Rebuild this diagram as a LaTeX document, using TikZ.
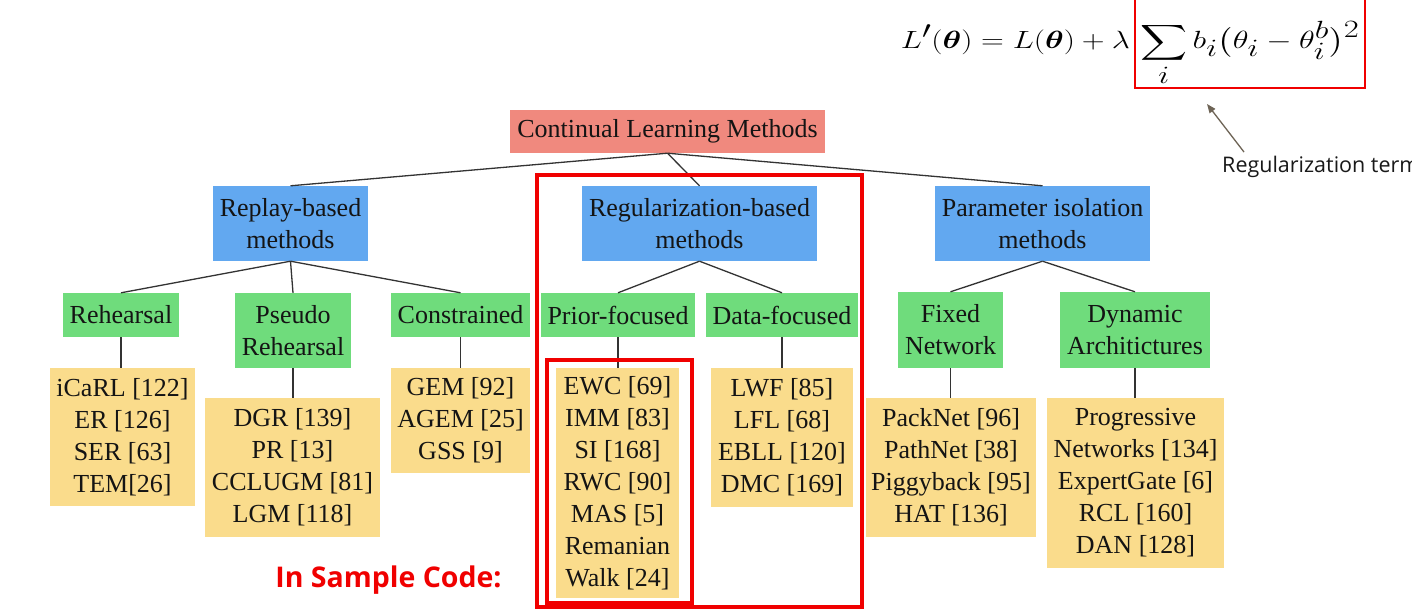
\documentclass[tikz,border=0pt]{standalone}
\usepackage{amsmath}
\usepackage{bm}
\usepackage{graphicx}
\usepackage{fontspec}
\setmainfont{Liberation Serif}
\newfontfamily\osans{Open Sans}
\usetikzlibrary{arrows.meta}
\definecolor{salmonbox}{HTML}{F0897E}
\definecolor{bluebox}{HTML}{62A8F0}
\definecolor{greenbox}{HTML}{6FDC7C}
\definecolor{yellowbox}{HTML}{FADC8C}
\definecolor{linegray}{HTML}{333333}
\definecolor{arrowbrown}{HTML}{6E6456}
\definecolor{markred}{HTML}{F00000}
\begin{document}
\begin{tikzpicture}[x=1pt,y=-1pt,
  box/.style={inner sep=0pt, align=center, font=\fontsize{26}{32}\selectfont, text=black!92},
  rootbox/.style={box, fill=salmonbox},
  catbox/.style={box, fill=bluebox},
  subbox/.style={box, fill=greenbox},
  leafbox/.style={box, fill=yellowbox},
  conn/.style={draw=linegray, line width=1.3pt},
  redframe/.style={draw=markred, inner sep=0pt},
  mathpart/.style={inner sep=0pt, font=\fontsize{34}{40}\selectfont}
]
\useasboundingbox (0,0) rectangle (1412,612);
\clip (0,0) rectangle (1412,612);
\fill[white] (0,0) rectangle (1412,612);

% level 0
\node[rootbox, minimum width=315pt, minimum height=43pt] (root) at (667.5,131.5) {Continual Learning Methods};

% level 1
\node[catbox, minimum width=155pt, minimum height=75pt] (replay) at (290.5,223.5) {Replay-based\\methods};
\node[catbox, minimum width=235pt, minimum height=75pt] (reg) at (699.5,223.5) {Regularization-based\\methods};
\node[catbox, minimum width=215pt, minimum height=75pt] (param) at (1042.5,223.5) {Parameter isolation\\methods};

% level 2
\node[subbox, minimum width=116pt, minimum height=44pt] (rehearsal) at (121,315) {Rehearsal};
\node[subbox, minimum width=116pt, minimum height=75pt] (pseudo) at (293,330.5) {Pseudo\\Rehearsal};
\node[subbox, minimum width=139pt, minimum height=44pt] (constr) at (460.5,315) {Constrained};
\node[subbox, minimum width=154pt, minimum height=44pt] (prior) at (618,315) {Prior-focused};
\node[subbox, minimum width=152pt, minimum height=44pt] (data) at (782,315) {Data-focused};
\node[subbox, minimum width=105pt, minimum height=76pt] (fixed) at (950.5,330) {Fixed\\Network};
\node[subbox, minimum width=150pt, minimum height=76pt] (dyn) at (1135,330) {Dynamic\\Architictures};

% level 3
\node[leafbox, minimum width=145pt, minimum height=138pt] (lrehearsal) at (122.5,437) {iCaRL [122]\\ER [126]\\SER [63]\\TEM[26]};
\node[leafbox, minimum width=175pt, minimum height=139pt] (lpseudo) at (292.5,467.5) {DGR [139]\\PR [13]\\CCLUGM [81]\\LGM [118]};
\node[leafbox, minimum width=139pt, minimum height=105pt] (lconstr) at (460.5,420.5) {GEM [92]\\AGEM [25]\\GSS [9]};
\node[leafbox, minimum width=123pt, minimum height=230pt] (lprior) at (617.5,483) {EWC [69]\\IMM [83]\\SI [168]\\RWC [90]\\MAS [5]\\Remanian\\Walk [24]};
\node[leafbox, minimum width=142pt, minimum height=139pt] (ldata) at (782,437.5) {LWF [85]\\LFL [68]\\EBLL [120]\\DMC [169]};
\node[leafbox, minimum width=170pt, minimum height=139pt] (lfixed) at (951,467.5) {PackNet [96]\\PathNet [38]\\Piggyback [95]\\HAT [136]};
\node[leafbox, minimum width=177pt, minimum height=170pt] (ldyn) at (1135.5,483) {Progressive\\Networks [134]\\ExpertGate [6]\\RCL [160]\\DAN [128]};

% connectors
\draw[conn] (root.south) -- (replay.north);
\draw[conn] (root.south) -- (reg.north);
\draw[conn] (root.south) -- (param.north);
\draw[conn] (replay.south) -- (rehearsal.north);
\draw[conn] (replay.south) -- (pseudo.north);
\draw[conn] (replay.south) -- (constr.north);
\draw[conn] (reg.south) -- (prior.north);
\draw[conn] (reg.south) -- (data.north);
\draw[conn] (param.south) -- (fixed.north);
\draw[conn] (param.south) -- (dyn.north);
\draw[conn] (rehearsal.south) -- (rehearsal.south |- lrehearsal.north);
\draw[conn] (pseudo.south) -- (pseudo.south |- lpseudo.north);
\draw[conn] (constr.south) -- (constr.south |- lconstr.north);
\draw[conn] (prior.south) -- (prior.south |- lprior.north);
\draw[conn] (data.south) -- (data.south |- ldata.north);
\draw[conn] (fixed.south) -- (fixed.south |- lfixed.north);
\draw[conn] (dyn.south) -- (dyn.south |- ldyn.north);

% red highlight frames
\node[redframe, line width=3.5pt, minimum width=325pt, minimum height=432pt] (regframe) at (699.5,391) {};
\node[redframe, line width=4pt, minimum width=145pt, minimum height=243pt] (priorframe) at (619.5,481.5) {};

% label
\node[font=\osans\bfseries\fontsize{28.5}{34}\selectfont, text=markred, inner sep=0pt] (sample) at (388.5,580) {In Sample Code:};

% formula
\node[mathpart, anchor=base east] (eqleft) at (1130,49)
  {\scalebox{1.27}[1.0]{$\displaystyle L'(\boldsymbol{\theta}) = L(\boldsymbol{\theta}) + \lambda$}};
\node[mathpart, anchor=base west] (eqright) at (1140,49)
  {\scalebox{1.31}[1.0]{$\displaystyle \sum_i b_i\bigl(\theta_i - \theta_i^b\bigr)^2$}};
\node[redframe, line width=2.5pt, minimum width=230pt, minimum height=95pt] (termframe) at (1250,40.5) {};

% annotation
\node[anchor=west, inner sep=0pt, font=\osans\fontsize{21.5}{26}\selectfont, text=black!90] (regterm) at (1222,167) {Regularization term};
\coordinate (arrtip) at (1207,104);
\draw[arrowbrown, line width=1.3pt, -{Triangle[length=9pt,width=7pt]}] ([xshift=22pt,yshift=4pt]regterm.north west) -- (arrtip);
\end{tikzpicture}
\end{document}
